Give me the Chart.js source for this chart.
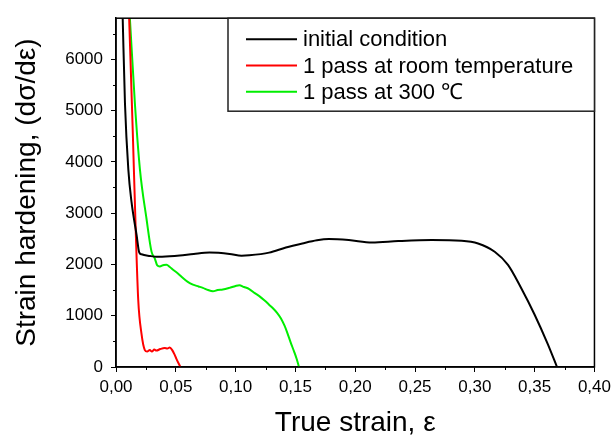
<!DOCTYPE html>
<html>
<head>
<meta charset="utf-8">
<script src="https://cdn.jsdelivr.net/npm/chart.js@4.4.1/dist/chart.umd.min.js"></script>
<style>
  html, body { margin: 0; padding: 0; background: #fff; }
  #wrap { width: 616px; height: 436px; }
</style>
</head>
<body>
<div id="wrap"><canvas id="graficaEndurecimiento"></canvas></div>
<script>
// Datos
const etiquetas = ['initial condition', '1 pass at room temperature', '1 pass at 300 \u2103'];
const colores = ['#000000', '#ff0000', '#00ee00'];

const strainInicial = [0.0056, 0.0075, 0.0103, 0.0130, 0.0172, 0.0194, 0.0213, 0.0283, 0.0338, 0.0450, 0.0533, 0.0650, 0.0782, 0.0950, 0.1050, 0.1114, 0.1280, 0.1420, 0.1558, 0.1680, 0.1780, 0.1946, 0.2140, 0.2360, 0.2640, 0.2890, 0.3027, 0.3166, 0.3277, 0.3387, 0.3498, 0.3609, 0.3687];
const durezaInicial = [6800, 5137, 3854, 3212, 2576, 2236, 2197, 2165, 2150, 2160, 2175, 2205, 2230, 2205, 2171, 2178, 2230, 2330, 2409, 2470, 2493, 2474, 2428, 2455, 2474, 2461, 2409, 2248, 1992, 1541, 1029, 451, 0];

const strainAmbiente = [0.0110, 0.0140, 0.0165, 0.0186, 0.0213, 0.0241, 0.0260, 0.0283, 0.0300, 0.0320, 0.0338, 0.0370, 0.0407, 0.0430, 0.0449, 0.0470, 0.0490, 0.0505, 0.0538];
const durezaAmbiente = [6800, 4600, 2650, 1300, 650, 330, 300, 330, 300, 340, 320, 350, 370, 360, 380, 330, 240, 160, 0];

const strain300 = [0.0116, 0.0158, 0.0200, 0.0255, 0.0297, 0.0324, 0.0345, 0.0366, 0.0400, 0.0422, 0.0450, 0.0477, 0.0520, 0.0560, 0.0600, 0.0643, 0.0690, 0.0726, 0.0770, 0.0810, 0.0850, 0.0893, 0.0948, 0.1000, 0.1031, 0.1070, 0.1114, 0.1160, 0.1198, 0.1240, 0.1280, 0.1310, 0.1345, 0.1378, 0.1410, 0.1433, 0.1460, 0.1489, 0.1510, 0.1530];
const dureza300 = [6800, 5137, 3854, 2890, 2249, 2120, 1980, 1960, 1990, 1992, 1950, 1896, 1820, 1735, 1660, 1606, 1570, 1542, 1500, 1478, 1500, 1510, 1542, 1580, 1594, 1560, 1520, 1440, 1381, 1300, 1215, 1150, 1060, 950, 800, 660, 480, 300, 160, 0];

const ticksX = [0, 0.05, 0.10, 0.15, 0.20, 0.25, 0.30, 0.35, 0.40];
const ticksY = [0, 1000, 2000, 3000, 4000, 5000, 6000];
const menoresX = [0.025, 0.075, 0.125, 0.175, 0.225, 0.275, 0.325, 0.375];
const menoresY = [500, 1500, 2500, 3500, 4500, 5500, 6500];

const FUENTE = '"Liberation Sans", Arial, sans-serif';

function puntos(xs, ys) {
    return xs.map((x, i) => ({ x: x, y: ys[i] }));
}

// Marco, marcas menores y leyenda con recuadro
const marcoPlugin = {
    id: 'marco',
    afterDraw(chart) {
        const ctx = chart.ctx;
        const a = chart.chartArea;
        const sx = chart.scales.x, sy = chart.scales.y;
        ctx.save();
        ctx.strokeStyle = '#000';
        ctx.lineWidth = 1.5;
        ctx.strokeRect(a.left, a.top, a.right - a.left, a.bottom - a.top);

        ctx.lineWidth = 1;
        ctx.beginPath();
        menoresX.forEach(v => {
            const px = Math.round(sx.getPixelForValue(v)) + 0.5;
            ctx.moveTo(px, a.bottom);
            ctx.lineTo(px, a.bottom + 3);
        });
        menoresY.forEach(v => {
            const py = Math.round(sy.getPixelForValue(v)) + 0.5;
            ctx.moveTo(a.left, py);
            ctx.lineTo(a.left - 3, py);
        });
        ctx.stroke();

        // leyenda
        const bx = 228, by = a.top, bw = a.right - bx, bh = 93;
        ctx.fillStyle = '#fff';
        ctx.fillRect(bx, by, bw, bh);
        ctx.strokeStyle = '#222';
        ctx.lineWidth = 1.5;
        ctx.strokeRect(bx, by, bw, bh);
        ctx.font = '22px ' + FUENTE;
        ctx.textBaseline = 'middle';
        ctx.textAlign = 'left';
        chart.data.datasets.forEach((ds, i) => {
            const yy = by + 21 + i * 26.3;
            ctx.strokeStyle = ds.borderColor;
            ctx.lineWidth = 2;
            ctx.beginPath();
            ctx.moveTo(bx + 18, yy);
            ctx.lineTo(bx + 69, yy);
            ctx.stroke();
            ctx.fillStyle = '#000';
            ctx.fillText(ds.label, bx + 75, yy + 1);
        });
        ctx.restore();
    }
};

function inicializarGrafica() {
    const ctx = document.getElementById('graficaEndurecimiento');
    if (!ctx) return;

    const series = [
        puntos(strainInicial, durezaInicial),
        puntos(strainAmbiente, durezaAmbiente),
        puntos(strain300, dureza300)
    ];

    new Chart(ctx.getContext('2d'), {
        type: 'line',
        data: {
            datasets: series.map((d, i) => ({
                label: etiquetas[i],
                data: d,
                borderColor: colores[i],
                backgroundColor: colores[i],
                borderWidth: 2,
                pointRadius: 0,
                cubicInterpolationMode: 'monotone',
                fill: false
            }))
        },
        options: {
            responsive: true,
            maintainAspectRatio: false,
            animation: false,
            layout: { padding: { top: 14, right: 19, left: 0, bottom: 0 } },
            plugins: {
                legend: { display: false },
                tooltip: { enabled: false }
            },
            scales: {
                x: {
                    type: 'linear',
                    min: 0,
                    max: 0.40,
                    afterFit: s => { s.height = 69; },
                    afterBuildTicks: s => { s.ticks = ticksX.map(v => ({ value: v })); },
                    grid: { drawOnChartArea: false, tickLength: 5, tickColor: '#000', tickWidth: 1 },
                    border: { display: true, color: '#000', width: 1.5 },
                    ticks: {
                        color: '#000',
                        padding: 5,
                        maxRotation: 0,
                        font: { family: FUENTE, size: 17 },
                        callback: v => v.toFixed(2).replace('.', ',')
                    },
                    title: {
                        display: true,
                        text: 'True strain, \u03b5',
                        color: '#000',
                        font: { family: FUENTE, size: 28, lineHeight: 0.93 },
                        padding: { top: 0, bottom: 0 }
                    }
                },
                y: {
                    min: 0,
                    max: 6800,
                    afterFit: s => { s.width = 116; },
                    afterBuildTicks: s => { s.ticks = ticksY.map(v => ({ value: v })); },
                    grid: { drawOnChartArea: false, tickLength: 5, tickColor: '#000', tickWidth: 1 },
                    border: { display: true, color: '#000', width: 1.5 },
                    ticks: {
                        color: '#000',
                        padding: 8,
                        font: { family: FUENTE, size: 17 },
                        callback: v => String(v)
                    },
                    title: {
                        display: true,
                        text: 'Strain hardening, (d\u03c3/d\u03b5)',
                        color: '#000',
                        font: { family: FUENTE, size: 28 },
                        padding: { top: 10, bottom: 0 }
                    }
                }
            }
        },
        plugins: [marcoPlugin]
    });
}

document.addEventListener('DOMContentLoaded', inicializarGrafica);
</script>
</body>
</html>
